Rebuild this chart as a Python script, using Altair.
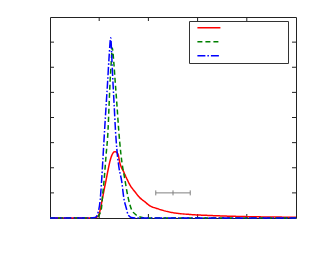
import altair as alt
import pandas as pd

W, H = 246, 201
FRAME = "#222222"

SERIES = ["s1", "s2", "s3"]
COLORS = ["#ff0000", "#008000", "#0000ff"]
DASHES = [[1, 0], [5, 3], [8, 2, 1.5, 2]]

RED_X = [0, 0.81, 0.93, 0.98, 1.02, 1.06, 1.10, 1.14, 1.18, 1.22, 1.26, 1.32, 1.38, 1.42,
         1.50, 1.565, 1.626, 1.728, 1.829, 1.931, 2.033, 2.175, 2.337, 2.541, 2.846,
         3.25, 3.86, 4.47, 5.0]
RED_Y = [0, 0, 0.02, 0.08, 0.32, 0.72, 1.12, 1.51, 1.91, 2.27, 2.51, 2.64, 2.55, 2.19,
         1.83, 1.55, 1.31, 1.04, 0.80, 0.64, 0.48, 0.38, 0.28, 0.20, 0.14,
         0.10, 0.06, 0.04, 0.03]

GREEN_X = [0, 0.85, 0.96, 1.04, 1.07, 1.10, 1.14, 1.18, 1.20, 1.22, 1.244, 1.266, 1.297,
           1.327, 1.362, 1.396, 1.443, 1.524, 1.585, 1.661, 1.728, 1.829, 1.951, 5.0]
GREEN_Y = [0, 0, 0.04, 0.32, 0.92, 1.51, 2.51, 3.51, 4.46, 5.38, 6.18, 6.77, 6.18,
           5.38, 4.46, 3.51, 2.51, 1.51, 0.84, 0.32, 0.16, 0.04, 0, 0]

BLUE_X = [0, 0.81, 0.92, 0.98, 1.02, 1.05, 1.08, 1.11, 1.14, 1.17, 1.20, 1.234, 1.26,
          1.28, 1.305, 1.33, 1.36, 1.40, 1.46, 1.50, 1.55, 1.59, 1.65, 1.73, 5.0]
BLUE_Y = [0, 0, 0.02, 0.24, 0.72, 1.51, 2.51, 3.51, 4.46, 5.38, 6.38, 7.17, 6.22,
          5.38, 4.46, 3.51, 2.71, 2.03, 1.43, 0.80, 0.40, 0.12, 0.02, 0, 0]

XTICKS = [1, 2, 3, 4]
YTICKS = [1, 2, 3, 4, 5, 6, 7]

ERR_CENTER = [2.5]
ERR_LO = [2.15]
ERR_HI = [2.85]
ERR_Y = [1.0]
CAP_LO = [0.9]
CAP_HI = [1.1]

rows = []
for name, xs_, ys_ in zip(SERIES, [RED_X, GREEN_X, BLUE_X], [RED_Y, GREEN_Y, BLUE_Y]):
    for i, (a, b) in enumerate(zip(xs_, ys_)):
        rows.append({"series": name, "x": a, "y": b, "i": i})
df = pd.DataFrame(rows)

xsc = alt.Scale(domain=[0, 5], nice=False, zero=False)
ysc = alt.Scale(domain=[0, 8], nice=False, zero=False)

leg = alt.Legend(
    orient="none", legendX=139, legendY=4, title=None, labelExpr="''",
    fillColor="white", strokeColor="#333333", padding=1, cornerRadius=0,
    symbolType="stroke", symbolSize=529, symbolStrokeWidth=1.5,
    clipHeight=11.6, rowPadding=2, labelOffset=65, symbolOffset=6.4, labelFontSize=10,
)

lines = alt.Chart(df).mark_line(strokeWidth=1.5, interpolate="monotone").encode(
    x=alt.X("x:Q", scale=xsc, axis=None),
    y=alt.Y("y:Q", scale=ysc, axis=None),
    color=alt.Color("series:N", scale=alt.Scale(domain=SERIES, range=COLORS), legend=leg),
    strokeDash=alt.StrokeDash("series:N", scale=alt.Scale(domain=SERIES, range=DASHES), legend=leg),
    order="i:Q",
)

xt = pd.DataFrame({"t": XTICKS})
yt = pd.DataFrame({"t": YTICKS})
top_t = alt.Chart(xt).mark_rule(color=FRAME, strokeWidth=1).encode(
    x=alt.X("t:Q", scale=xsc, axis=None), y=alt.value(0), y2=alt.value(4))
bot_t = alt.Chart(xt).mark_rule(color=FRAME, strokeWidth=1).encode(
    x=alt.X("t:Q", scale=xsc, axis=None), y=alt.value(H), y2=alt.value(H - 4))
left_t = alt.Chart(yt).mark_rule(color=FRAME, strokeWidth=1).encode(
    y=alt.Y("t:Q", scale=ysc, axis=None), x=alt.value(0), x2=alt.value(4))
right_t = alt.Chart(yt).mark_rule(color=FRAME, strokeWidth=1).encode(
    y=alt.Y("t:Q", scale=ysc, axis=None), x=alt.value(W), x2=alt.value(W - 4))

eb = pd.DataFrame({"lo": ERR_LO, "hi": ERR_HI, "y": ERR_Y})
bar = alt.Chart(eb).mark_rule(color="#808080", strokeWidth=1).encode(
    x=alt.X("lo:Q", scale=xsc, axis=None), x2="hi:Q",
    y=alt.Y("y:Q", scale=ysc, axis=None))
caps_df = pd.DataFrame({"x": ERR_LO + ERR_CENTER + ERR_HI,
                        "y0": CAP_LO * 3, "y1": CAP_HI * 3})
caps = alt.Chart(caps_df).mark_rule(color="#808080", strokeWidth=1).encode(
    x=alt.X("x:Q", scale=xsc, axis=None),
    y=alt.Y("y0:Q", scale=ysc, axis=None), y2="y1:Q")

chart = alt.layer(top_t, bot_t, left_t, right_t, lines, bar, caps).properties(
    width=W, height=H,
    padding={"left": 39, "top": 8, "right": 5, "bottom": 20},
).configure_view(stroke=FRAME, strokeWidth=1)

chart.save("out.html", embed_options={"renderer": "svg", "actions": False})
